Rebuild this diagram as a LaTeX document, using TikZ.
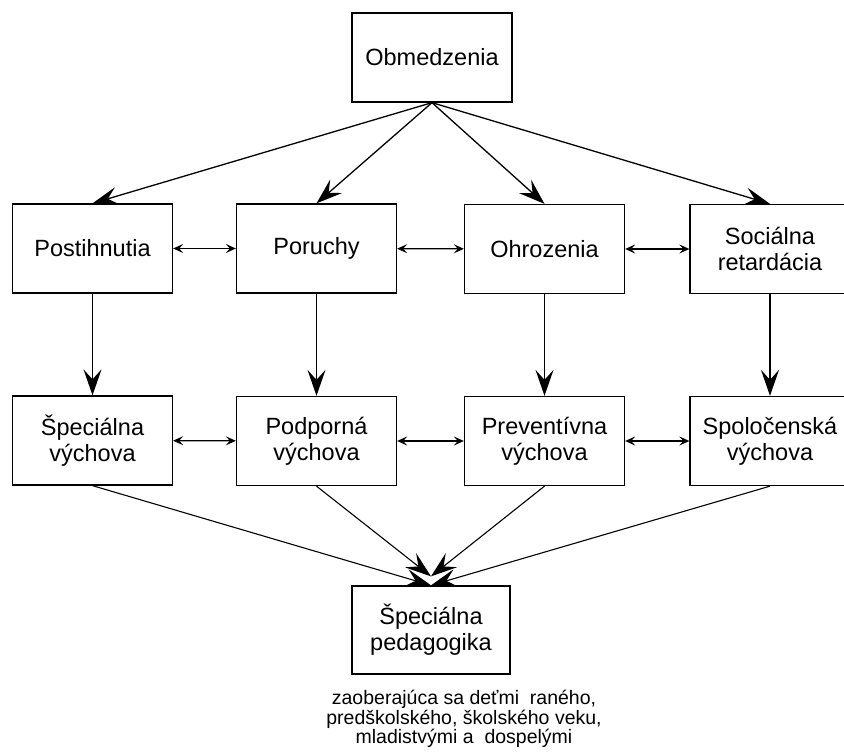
\documentclass[tikz,border=0pt]{standalone}
\usepackage{fontspec}
\setmainfont{Liberation Sans}
\usetikzlibrary{arrows.meta, calc}

\begin{document}
\begin{tikzpicture}[x=1pt, y=-1pt,
    box/.style={rectangle, draw, line width=1.3pt, minimum width=160pt,
                minimum height=89pt, align=center, font=\fontsize{23.5}{26}\selectfont},
    down/.style={-{Stealth[length=26pt, width=18pt, inset=10pt]}, line width=1.3pt},
    both/.style={{Stealth[length=10pt, width=9pt, inset=4pt]}-{Stealth[length=10pt, width=9pt, inset=4pt]}, line width=1.3pt}]

    \clip (0,0) rectangle (844,755);

    % Components
    \node[box] (obm) at (432, 57.5) {Obmedzenia};

    \node[box] (post) at (92.5, 248.5) {Postihnutia};
    \node[box] (poru) at (316.5, 248.5) {Poruchy};
    \node[box] (ohro) at (544.5, 249) {Ohrozenia};
    \node[box] (soc) at (770, 249) {Sociálna\\retardácia};

    \node[box] (spec) at (92.5, 440.5) {Špeciálna\\výchova};
    \node[box] (podp) at (316.5, 441) {Podporná\\výchova};
    \node[box] (prev) at (544.5, 441) {Preventívna\\výchova};
    \node[box] (spol) at (770, 441) {Spoločenská\\výchova};

    % Output
    \node[box, minimum width=158pt, minimum height=88pt] (ped) at (431, 630) {Špeciálna\\pedagogika};
    \node[align=center, font=\fontsize{19.5}{17}\selectfont] (note) at (464, 719)
        {zaoberajúca sa deťmi\ \ raného,\\predškolského, školského veku,\\mladistvými a\ \ dospelými};

    % Arrows
    \draw[down] (obm.south) -- (post.north);
    \draw[down] (obm.south) -- (poru.north);
    \draw[down] (obm.south) -- (ohro.north);
    \draw[down] (obm.south) -- (soc.north);

    \draw[both] (post) -- (poru);
    \draw[both] (poru) -- (ohro);
    \draw[both] (ohro) -- (soc);
    \draw[both] (spec) -- (podp);
    \draw[both] (podp) -- (prev);
    \draw[both] (prev) -- (spol);

    \draw[down] (post) -- (spec);
    \draw[down] (poru) -- (podp);
    \draw[down] (ohro) -- (prev);
    \draw[down] (soc) -- (spol);

    \draw[down, line width=1.1pt] (spec.south) -- (ped.north);
    \draw[down, line width=1.1pt] (podp.south) -- ([yshift=9pt]ped.north);
    \draw[down, line width=1.1pt] (prev.south) -- ([yshift=9pt]ped.north);
    \draw[down, line width=1.1pt] (spol.south) -- (ped.north);
\end{tikzpicture}
\end{document}
